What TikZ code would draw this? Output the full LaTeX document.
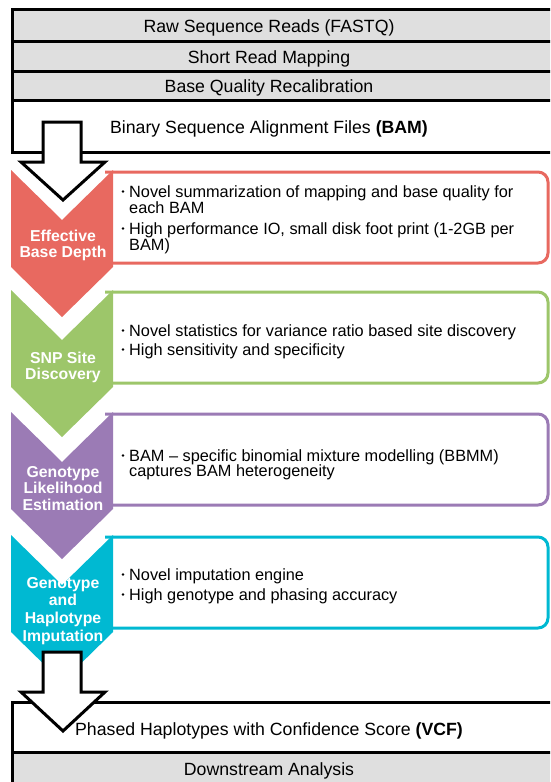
\documentclass[tikz,border=0pt]{standalone}
\usepackage{fontspec}
\setmainfont{Liberation Sans}
\definecolor{stageRed}{RGB}{232,105,96}
\definecolor{stageGreen}{RGB}{157,198,106}
\definecolor{stagePurple}{RGB}{155,123,181}
\definecolor{stageCyan}{RGB}{0,185,210}
\definecolor{rowGray}{RGB}{223,223,223}
\tikzset{
  frame/.style={draw=black, line width=3pt},
  bigarrow/.style={draw=black, fill=white, line width=3pt, line join=miter},
  stagebox/.style={line width=3pt, rounded corners=10pt},
  lbl/.style={text=white, font=\fontsize{15.8}{17}\selectfont\bfseries, anchor=base, inner sep=0pt},
  txt/.style={font=\fontsize{16.3}{16}\selectfont, anchor=base west, inner sep=0pt},
  headtxt/.style={font=\fontsize{17.7}{20}\selectfont, anchor=base, inner sep=0pt},
  dot/.style={circle, fill=black, inner sep=0pt, minimum size=2.8pt},
}
% chevron with its top edge at y=#2
\newcommand{\stagechevron}[2]{%
  \fill[#1] (11,#2) -- (62,#2+50) -- (113,#2) -- (113,#2+97) -- (62,#2+147) -- (11,#2+97) -- cycle;}
\newcommand{\stageframe}[2]{%
  \draw[stagebox, draw=#1] (105,#2+2) -- (548,#2+2) -- (548,#2+93) -- (105,#2+93);}
\begin{document}
\begin{tikzpicture}[x=1pt,y=-1pt]
\useasboundingbox (0,0) rectangle (550,782);
\clip (0,0) rectangle (550,782);

% input stack
\fill[rowGray] (12,9) rectangle (580,100);
\draw[frame] (12,9) rectangle (580,152);
\draw[frame] (12,41) -- (580,41);
\draw[frame] (12,71) -- (580,71);
\draw[frame] (12,100) -- (580,100);
\node[headtxt] (raw) at (269,32) {Raw Sequence Reads (FASTQ)};
\node[headtxt] (map) at (269,63) {Short Read Mapping};
\node[headtxt] (bqr) at (269,92) {Base Quality Recalibration};
\node[headtxt] (bam) at (269,133) {Binary Sequence Alignment Files \textbf{(BAM)}};

% output stack
\fill[rowGray] (12,752) rectangle (580,800);
\draw[frame] (12,702) rectangle (580,800);
\draw[frame] (12,752) -- (580,752);
\node[headtxt] (vcf) at (269,735) {Phased Haplotypes with Confidence Score \textbf{(VCF)}};
\node[headtxt] (down) at (269,775) {Downstream Analysis};

% stage frames
\stageframe{stageRed}{170}
\stageframe{stageGreen}{290}
\stageframe{stagePurple}{412}
\stageframe{stageCyan}{535}

% stage chevrons
\stagechevron{stageRed}{170}
\stagechevron{stageGreen}{290}
\stagechevron{stagePurple}{412}
\stagechevron{stageCyan}{535}

% chevron labels
\node[lbl] (ebd1) at (63,241) {Effective};
\node[lbl] (ebd2) at (63,257) {Base Depth};
\node[lbl] (snp1) at (63,363) {SNP Site};
\node[lbl] (snp2) at (63,379) {Discovery};
\node[lbl] (gle1) at (63,477) {Genotype};
\node[lbl] (gle2) at (63,493) {Likelihood};
\node[lbl] (gle3) at (63,510) {Estimation};
\node[lbl] (ghi1) at (63,588) {Genotype};
\node[lbl] (ghi2) at (63,605) {and};
\node[lbl] (ghi3) at (63,623) {Haplotype};
\node[lbl] (ghi4) at (63,641) {Imputation};

% bullet points
\node[dot] (b1) at (123,191.5) {};
\node[txt] (t1a) at (129,197) {Novel summarization of mapping and base quality for};
\node[txt] (t1b) at (129,213) {each BAM};
\node[dot] (b2) at (123,228.5) {};
\node[txt] (t2a) at (129,234) {High performance IO, small disk foot print (1-2GB per};
\node[txt] (t2b) at (129,250) {BAM)};

\node[dot] (b3) at (123,330.5) {};
\node[txt] (t3) at (129,336) {Novel statistics for variance ratio based site discovery};
\node[dot] (b4) at (123,349.5) {};
\node[txt] (t4) at (129,355) {High sensitivity and specificity};

\node[dot] (b5) at (123,455.5) {};
\node[txt] (t5a) at (129,461) {BAM -- specific binomial mixture modelling (BBMM)};
\node[txt] (t5b) at (129,476) {captures BAM heterogeneity};

\node[dot] (b6) at (123,574.5) {};
\node[txt] (t6) at (129,580) {Novel imputation engine};
\node[dot] (b7) at (123,594.5) {};
\node[txt] (t7) at (129,600) {High genotype and phasing accuracy};

% flow arrows
\draw[bigarrow] (43,122) -- (81,122) -- (81,162) -- (105,162) -- (63,200)
  -- (21,162) -- (43,162) -- cycle;
\draw[bigarrow] (43,652) -- (81,652) -- (81,692) -- (105,692) -- (63,731)
  -- (21,692) -- (43,692) -- cycle;
\end{tikzpicture}
\end{document}
